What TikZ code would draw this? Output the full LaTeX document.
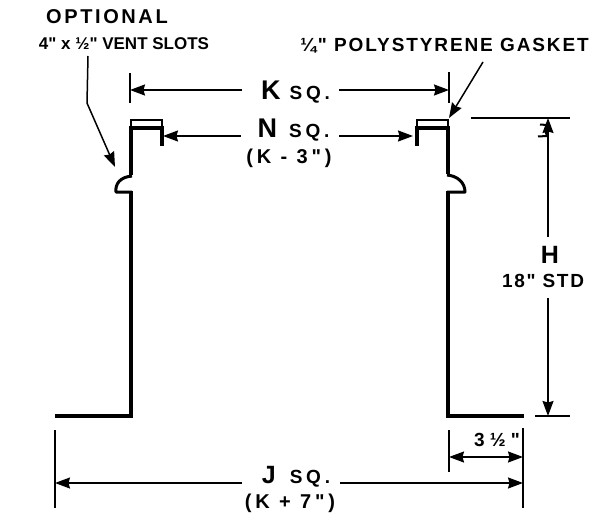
\documentclass[tikz,border=0pt]{standalone}
\usepackage{fontspec}
\setmainfont{Liberation Sans}[Ligatures=TeXOff]
\usetikzlibrary{arrows.meta}
\newcommand{\lsf}[2]{\fontsize{#1}{#1}\selectfont\addfontfeature{LetterSpace=#2}}
\tikzset{
 wall/.style={line width=4pt,line cap=butt,line join=miter},
 thinw/.style={line width=2pt},
 bead/.style={line width=3pt,line join=round},
 dim/.style={line width=1.5pt},
 tick/.style={line width=1.4pt},
 tipsh/.tip={Stealth[length=15pt,width=11pt,inset=1.5pt]},
 tip/.style={-tipsh},
 lbl/.style={inner sep=0pt,anchor=base,text=black,font=\bfseries},
}
\begin{document}
\begin{tikzpicture}[x=1pt,y=-1pt]
\useasboundingbox (0,0) rectangle (601,513);
% left duct
\draw[wall] (55,416) -- (131,416) -- (131,190.5);
\draw[bead] (132,192) -- (116,192) .. controls (115,184) and (120,177) .. (132,176);
\draw[wall] (131,174.5) -- (131,128) -- (162,128);
\draw[thinw] (131,128) -- (131,120) -- (162,120) -- (162,128);
\draw[wall] (162,126) -- (162,146);
% right duct
\draw[wall] (524,416) -- (448,416) -- (448,190.5);
\draw[bead] (447,192) -- (465,192) .. controls (465,183) and (458,176) .. (447,175);
\draw[wall] (448,173.5) -- (448,128) -- (417,128);
\draw[thinw] (448,128) -- (448,120) -- (417,120) -- (417,128);
\draw[wall] (417,126) -- (417,146);
% nodes
\node[lbl] (opt) at (107,24) {\lsf{20}{13}OPTIONAL};
\node[lbl] (slots) at (124,50) {\lsf{17}{0}4" x ½" VENT SLOTS};
\node[lbl] (gasket) at (444.5,52) {\lsf{19}{10}¼" POLYSTYRENE GASKET};
\node[lbl] (k) at (295.5,100) {\lsf{27}{0}K\hspace{9pt}\lsf{19}{20}SQ.};
\node[lbl] (n) at (293.5,138) {\lsf{27}{0}N\hspace{12pt}\lsf{19}{20}SQ.};
\node[lbl] (kminus) at (289,163) {\lsf{20}{19}(K - 3")};
\node[lbl] (h) at (550,263) {\lsf{25}{0}H};
\node[lbl] (std) at (543,287) {\lsf{19}{9}18" STD};
\node[lbl] (j) at (296,483) {\lsf{25}{0}J\hspace{14pt}\lsf{19}{20}SQ.};
\node[lbl] (kplus) at (290,508) {\lsf{20}{19}(K + 7")};
\node[lbl] (three) at (497,446) {\lsf{19}{0}3 ½ "};
% K
\coordinate (kl1) at (130,73); \coordinate (kl2) at (130,103);
\coordinate (kr1) at (449,72); \coordinate (kr2) at (449,103);
\draw[tick] (kl1) -- (kl2);
\draw[tick] (kr1) -- (kr2);
\coordinate (kla) at (130,90); \coordinate (kra) at (449,90);
\coordinate (kls) at (242,90); \coordinate (krs) at (339,90);
\draw[dim,tip] (kls) -- (kla);
\draw[dim,tip] (krs) -- (kra);
% N
\coordinate (nla) at (163,136); \coordinate (nra) at (413,136);
\coordinate (nls) at (241,136); \coordinate (nrs) at (339,136);
\draw[dim,tip] (nls) -- (nla);
\draw[dim,tip] (nrs) -- (nra);
% H
\coordinate (ht1) at (471,118); \coordinate (ht2) at (570,118);
\coordinate (hb1) at (535,416); \coordinate (hb2) at (570,416);
\coordinate (hta) at (548,118); \coordinate (hba) at (548,416);
\coordinate (hus) at (548,237); \coordinate (hls) at (548,298);
\draw[tick] (ht1) -- (ht2);
\draw[tick] (hb1) -- (hb2);
\draw[dim,tip] (hus) -- (hta);
\draw[dim,tip] (hls) -- (hba);
\draw[line width=2pt] (540,124.5) -- (547,125) -- (545,130) -- (547,136) -- (538,136.5);
% J
\coordinate (jl1) at (55,430); \coordinate (jl2) at (55,508);
\coordinate (jr1) at (523,428); \coordinate (jr2) at (523,508);
\coordinate (tl1) at (449,430); \coordinate (tl2) at (449,472);
\draw[tick] (jl1) -- (jl2);
\draw[tick] (jr1) -- (jr2);
\draw[tick] (tl1) -- (tl2);
\coordinate (jla) at (55,483); \coordinate (jra) at (523,483);
\coordinate (jls) at (242,483); \coordinate (jrs) at (340,483);
\draw[dim,tip] (jls) -- (jla);
\draw[dim,tip] (jrs) -- (jra);
\coordinate (tla) at (449,457); \coordinate (tra) at (523,457);
\draw[dim,tipsh-tipsh] (tla) -- (tra);
% leaders
\coordinate (l1) at (88,56); \coordinate (l2) at (87,103); \coordinate (bd) at (115,167);
\draw[dim,tip] (l1) -- (l2) -- (bd);
\coordinate (g1) at (483,62); \coordinate (gask) at (449,118);
\draw[dim,tip] (g1) -- (gask);
\end{tikzpicture}
\end{document}
